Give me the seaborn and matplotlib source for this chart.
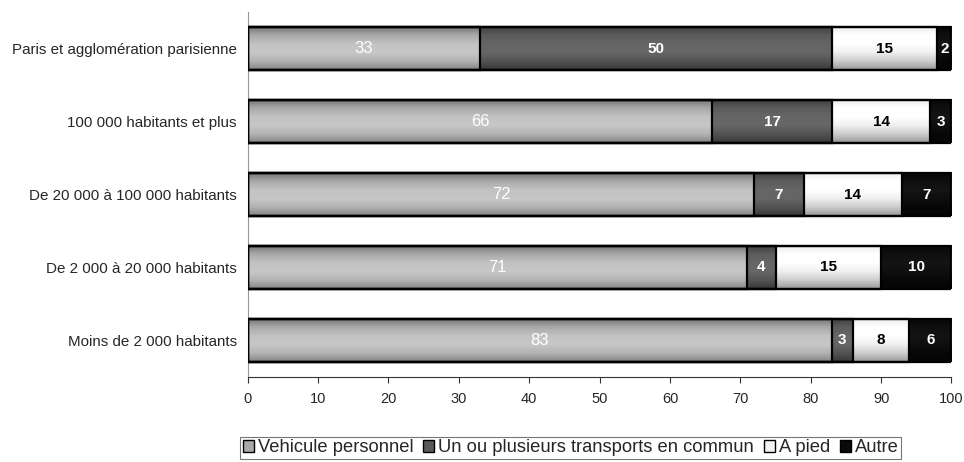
import numpy as np
import pandas as pd
import matplotlib
matplotlib.use("Agg")
import matplotlib.pyplot as plt
import seaborn as sns
from matplotlib.patches import Patch

categories = [
    "Paris et agglomération parisienne",
    "100 000 habitants et plus",
    "De 20 000 à 100 000 habitants",
    "De 2 000 à 20 000 habitants",
    "Moins de 2 000 habitants",
]
series_names = ["Vehicule personnel", "Un ou plusieurs transports en commun", "A pied", "Autre"]
vehicule = [33, 66, 72, 71, 83]
transports = [50, 17, 7, 4, 3]
a_pied = [15, 14, 14, 15, 8]
autre = [2, 3, 7, 10, 6]
x_ticks = [0, 10, 20, 30, 40, 50, 60, 70, 80, 90, 100]

series_values = [vehicule, transports, a_pied, autre]
fill_colors = ["#a9a9a9", "#5a5a5a", "#f2f2f2", "#0a0a0a"]
# grey levels of the vertical shading inside each segment, top to bottom
shading = [
    [0.45, 0.66, 0.76, 0.78, 0.70, 0.52],
    [0.25, 0.36, 0.40, 0.40, 0.33, 0.22],
    [0.92, 1.00, 1.00, 0.94, 0.80, 0.60],
    [0.03, 0.06, 0.08, 0.06, 0.03, 0.02],
]
label_colors = ["white", "white", "black", "white"]
label_weights = ["normal", "bold", "bold", "bold"]
bar_h = 0.59

sns.set_theme(style="white")
plt.rcParams["font.family"] = ["Liberation Sans", "DejaVu Sans"]

fig = plt.figure(figsize=(9.64, 4.62), dpi=100)
ax = fig.add_axes([0.257, 0.184, 0.73, 0.79])

df = pd.DataFrame({"Catégorie": categories})
bounds = []
cum = np.zeros(len(categories))
for vals in series_values:
    lo = cum.copy()
    cum = cum + np.array(vals)
    bounds.append((lo, cum.copy()))

# stacked bars drawn as overlapping cumulative totals, outermost first
for i in reversed(range(len(series_values))):
    df["total"] = bounds[i][1]
    sns.barplot(data=df, x="total", y="Catégorie", orient="h", color=fill_colors[i],
                saturation=1, linewidth=0, width=bar_h, ax=ax)

# vertical shading of every segment
for i, vals in enumerate(series_values):
    prof = np.interp(np.linspace(0, 1, 60), np.linspace(0, 1, len(shading[i])), shading[i])
    img = np.repeat(prof[:, None], 2, axis=1)
    lo, hi = bounds[i]
    for j in range(len(categories)):
        ax.imshow(img, cmap="gray", vmin=0, vmax=1, aspect="auto", interpolation="bilinear",
                  extent=(lo[j], hi[j], j + bar_h / 2, j - bar_h / 2), zorder=2)

# black outlines of the segments
for i in reversed(range(len(series_values))):
    df["total"] = bounds[i][1]
    sns.barplot(data=df, x="total", y="Catégorie", orient="h", color="black", fill=False,
                linewidth=1.6, width=bar_h, ax=ax, zorder=3)

# value labels centred in each segment
for i, vals in enumerate(series_values):
    lo, hi = bounds[i]
    for j, v in enumerate(vals):
        ax.text((lo[j] + hi[j]) / 2, j, f"{v}", ha="center", va="center", zorder=4,
                color=label_colors[i], fontsize=12 if i == 0 else 11,
                fontweight=label_weights[i])

ax.set_xlim(0, 100)
ax.set_ylim(4.5, -0.5)
ax.set_xticks(x_ticks)
ax.set_xticklabels([str(t) for t in x_ticks], fontsize=10.5)
ax.set_xlabel("")
ax.set_ylabel("")
ax.tick_params(axis="y", labelsize=10.9, length=0, pad=8)
ax.tick_params(axis="x", length=4, width=0.8, color="#333333", direction="out", bottom=True, pad=7)
for s in ["top", "right"]:
    ax.spines[s].set_visible(False)
ax.spines["left"].set_color("#999999")
ax.spines["left"].set_linewidth(0.8)
ax.spines["bottom"].set_color("#333333")
ax.spines["bottom"].set_linewidth(0.8)

handles = [Patch(facecolor=c, edgecolor="black", linewidth=1) for c in fill_colors]
leg = fig.legend(handles, series_names, loc="lower center", bbox_to_anchor=(0.592, 0.006),
                 ncol=4, fontsize=13.2, frameon=True, fancybox=False, edgecolor="#555555",
                 handlelength=0.6, handleheight=0.6, handletextpad=0.2, columnspacing=0.55,
                 borderpad=0.15, borderaxespad=0.0)
leg.get_frame().set_linewidth(0.8)

fig.savefig("out.png", dpi=100)
